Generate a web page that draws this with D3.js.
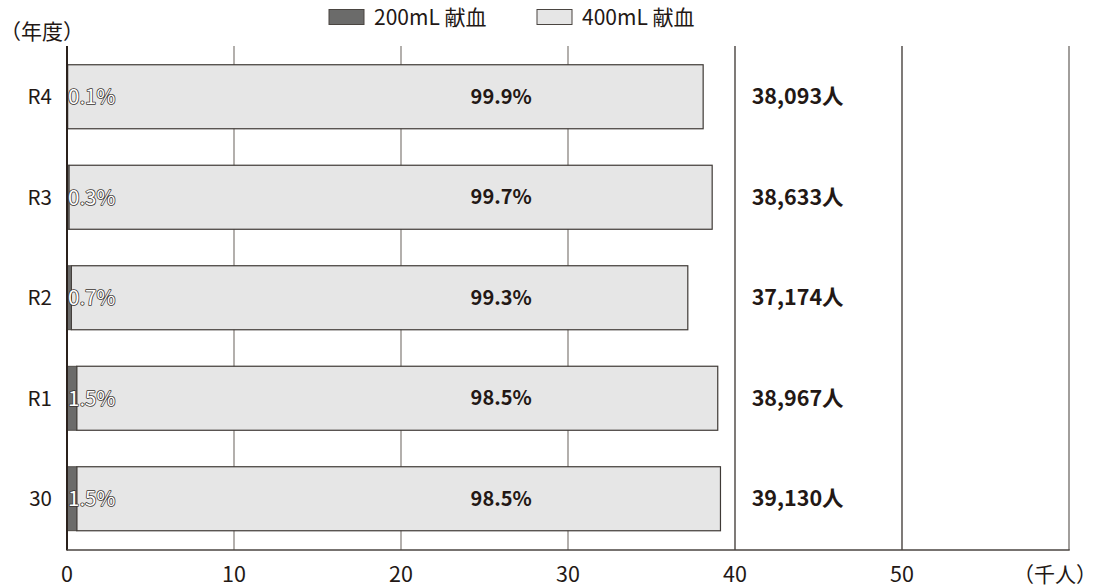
<!DOCTYPE html>
<html lang="ja">
<head>
<meta charset="utf-8">
<script src="https://cdn.jsdelivr.net/npm/d3@7"></script>
<style>
  html, body { margin: 0; padding: 0; background: #fff; }
  svg { display: block; font-family: "Noto Sans CJK JP", "Noto Sans", sans-serif; }
</style>
</head>
<body>
<svg id="chart" width="1097" height="587"></svg>
<script>
// 献血者数（200mL / 400mL の内訳）
const years = ["R4", "R3", "R2", "R1", "30"];
const totals = [38093, 38633, 37174, 38967, 39130];   // 人
const pct200 = [0.1, 0.3, 0.7, 1.5, 1.5];             // %
const pct400 = [99.9, 99.7, 99.3, 98.5, 98.5];        // %
const xTicks = [0, 10, 20, 30, 40, 50, 60];           // 千人
const seriesNames = ["200mL 献血", "400mL 献血"];

const ink = "#231815";
const colDark = "#6b6b6a";
const colLight = "#e6e6e6";

const svg = d3.select("#chart");

const x = d3.scaleLinear().domain([0, 60]).range([67, 1069]);
const y = d3.scaleBand().domain(years).range([46.5, 549])
  .paddingInner(0.363).paddingOuter(0.1815);
const plotTop = 46, plotBottom = 550;

const rows = years.map((yr, i) => {
  const tot = totals[i] / 1000;
  const a = tot * pct200[i] / 100;
  return { yr, tot, a, p200: pct200[i], p400: pct400[i], n: totals[i] };
});

// grid lines
svg.append("g").selectAll("line")
  .data(xTicks.filter(d => d > 0))
  .join("line")
  .attr("x1", d => x(d)).attr("x2", d => x(d))
  .attr("y1", plotTop).attr("y2", plotBottom)
  .attr("stroke", d => d < 40 ? "#8a8580" : (d === 60 ? "#6f6a66" : "#3a3330"))
  .attr("stroke-width", 1.3);

// bars
const g = svg.append("g");
g.selectAll("rect.light").data(rows).join("rect")
  .attr("class", "light")
  .attr("x", d => x(d.a)).attr("y", d => y(d.yr))
  .attr("width", d => x(d.tot) - x(d.a)).attr("height", y.bandwidth())
  .attr("fill", colLight).attr("stroke", "#3f3a36").attr("stroke-width", 1.2);
g.selectAll("rect.dark").data(rows).join("rect")
  .attr("class", "dark")
  .attr("x", x(0)).attr("y", d => y(d.yr))
  .attr("width", d => x(d.a) - x(0)).attr("height", y.bandwidth())
  .attr("fill", colDark).attr("stroke", "#3f3a36").attr("stroke-width", 0.8);

// axes
svg.append("line").attr("x1", x(0)).attr("x2", x(0)).attr("y1", plotTop).attr("y2", plotBottom + 0.5)
  .attr("stroke", "#2a211c").attr("stroke-width", 2);
svg.append("line").attr("x1", x(0)).attr("x2", x(60) + 0.7).attr("y1", plotBottom).attr("y2", plotBottom)
  .attr("stroke", "#4a4541").attr("stroke-width", 1.4);

// x tick labels
svg.append("g").selectAll("text").data(xTicks.filter(d => d < 60)).join("text")
  .attr("x", d => x(d)).attr("y", 582)
  .attr("text-anchor", "middle").attr("font-size", 21.5).attr("fill", ink)
  .text(d => d);
svg.append("text").attr("x", 1097).attr("y", 582).attr("text-anchor", "end")
  .attr("font-size", 21).attr("fill", ink).text("（千人）");

// y labels
svg.append("g").selectAll("text").data(years).join("text")
  .attr("x", 52).attr("y", d => y(d) + y.bandwidth() / 2)
  .attr("dy", "0.36em").attr("text-anchor", "end")
  .attr("font-size", 20.5).attr("fill", ink).text(d => d);
svg.append("text").attr("x", 0).attr("y", 39)
  .attr("font-size", 21).attr("fill", ink).text("（年度）");

// percentage labels (white with dark outline)
svg.append("g").selectAll("text").data(rows).join("text")
  .attr("x", x(0) + 1).attr("y", d => y(d.yr) + y.bandwidth() / 2)
  .attr("dy", "0.36em").attr("font-size", 20.5)
  .attr("fill", "#fff").attr("stroke", "#3a3430").attr("stroke-width", 1.5)
  .attr("stroke-linejoin", "round").style("paint-order", "stroke")
  .text(d => d.p200.toFixed(1) + "%");
svg.append("g").selectAll("text").data(rows).join("text")
  .attr("x", x(26)).attr("y", d => y(d.yr) + y.bandwidth() / 2)
  .attr("dy", "0.36em").attr("text-anchor", "middle")
  .attr("font-size", 20).attr("font-weight", "bold").attr("fill", ink)
  .text(d => d.p400.toFixed(1) + "%");

// totals
svg.append("g").selectAll("text").data(rows).join("text")
  .attr("x", x(41)).attr("y", d => y(d.yr) + y.bandwidth() / 2)
  .attr("dy", "0.36em").attr("font-size", 21.5).attr("font-weight", "bold").attr("fill", ink)
  .text(d => d3.format(",")(d.n) + "人");

// legend
const legend = svg.append("g");
const lx = [329, 537];
seriesNames.forEach((name, i) => {
  legend.append("rect").attr("x", lx[i]).attr("y", 9.5).attr("width", 35).attr("height", 15)
    .attr("fill", i === 0 ? colDark : colLight).attr("stroke", "#4a4541").attr("stroke-width", 1);
  legend.append("text").attr("x", lx[i] + 45).attr("y", 25)
    .attr("font-size", 21).attr("fill", ink).text(name);
});
</script>
</body>
</html>
